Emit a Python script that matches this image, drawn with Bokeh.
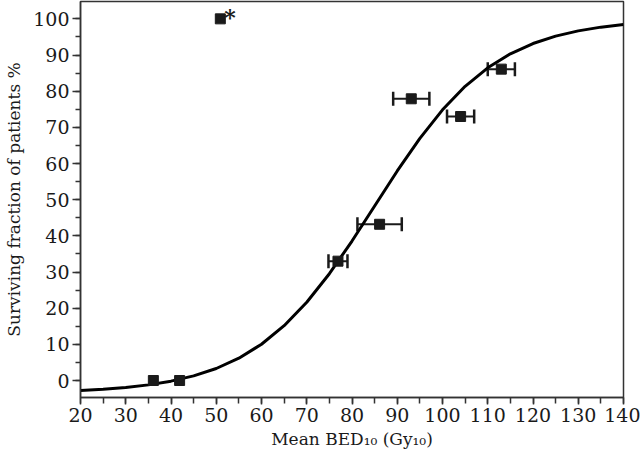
from bokeh.plotting import figure
from bokeh.models import Range1d, SingleIntervalTicker, ColumnDataSource, Whisker, TeeHead
from bokeh.core.properties import value
from bokeh.embed import file_html
from bokeh.resources import INLINE

# Data
pts_x = [36.1, 41.9, 50.9]
pts_y = [0.0, 0.0, 100.0]

err_x = [76.9, 86.1, 93.1, 104.0, 113.0]
err_y = [33.0, 43.2, 77.9, 73.0, 86.1]
err_dx = [2.1, 4.9, 4.0, 3.0, 3.0]

curve_x = [20, 25, 30, 35, 40, 45, 50, 55, 60, 65, 70, 75, 80, 85, 90, 95,
           100, 105, 110, 115, 120, 125, 130, 135, 140]
curve_y = [-2.75, -2.41, -1.92, -1.21, -0.18, 1.27, 3.32, 6.16, 10.03, 15.15,
           21.65, 29.53, 38.56, 48.25, 57.94, 66.97, 74.85, 81.35, 86.46, 90.33,
           93.18, 95.23, 96.68, 97.71, 98.42]

star_label = ["*"]

FONT = "DejaVu Serif"
INK = "#1a1a1a"
AX = "#333333"

p = figure(width=640, height=455, output_backend="svg", toolbar_location=None,
           x_range=Range1d(20, 140), y_range=Range1d(-4.7, 104.8),
           min_border_left=80, min_border_right=17, min_border_top=1, min_border_bottom=58)
p.grid.visible = False
p.outline_line_color = AX
p.outline_line_width = 1.5
p.background_fill_color = "white"
p.border_fill_color = "white"

p.xaxis.ticker = SingleIntervalTicker(interval=10, num_minor_ticks=2)
p.yaxis.ticker = SingleIntervalTicker(interval=10, num_minor_ticks=2)

for ax in (p.xaxis, p.yaxis):
    ax.axis_line_color = AX
    ax.axis_line_width = 1.5
    ax.major_tick_line_color = AX
    ax.minor_tick_line_color = AX
    ax.major_tick_line_width = 1.5
    ax.minor_tick_line_width = 1.5
    ax.major_tick_in = 0
    ax.minor_tick_in = 0
    ax.major_label_text_font = FONT
    ax.major_label_text_font_size = "19px"
    ax.major_label_text_color = INK
    ax.axis_label_text_font = FONT
    ax.axis_label_text_font_size = "17px"
    ax.axis_label_text_font_style = "normal"
    ax.axis_label_text_color = INK

p.xaxis.major_tick_out = 7
p.xaxis.minor_tick_out = 6
p.yaxis.major_tick_out = 8
p.yaxis.minor_tick_out = 5
p.xaxis.major_label_standoff = 3
p.yaxis.major_label_standoff = 3
p.xaxis.axis_label_standoff = 4
p.yaxis.axis_label_standoff = 6

p.xaxis.axis_label = "Mean BED\u2081\u2080 (Gy\u2081\u2080)"
p.yaxis.axis_label = "Surviving fraction of patients %"

# fitted curve
p.line(curve_x, curve_y, line_color="black", line_width=3)

# error bars
src = ColumnDataSource(dict(
    x=err_x, y=err_y,
    lo=[a - d for a, d in zip(err_x, err_dx)],
    hi=[a + d for a, d in zip(err_x, err_dx)],
))
w = Whisker(source=src, base="y", lower="lo", upper="hi", dimension="width",
            line_color=INK, line_width=2,
            upper_head=TeeHead(size=14, line_width=2.5, line_color=INK),
            lower_head=TeeHead(size=14, line_width=2.5, line_color=INK))
p.add_layout(w)

p.scatter(err_x, err_y, marker="square", size=10, fill_color=INK, line_color=INK)
p.scatter(pts_x, pts_y, marker="square", size=10, fill_color=INK, line_color=INK)

p.text(x=[pts_x[2]], y=[pts_y[2]], text=star_label, text_font=value(FONT),
       text_font_size="22px", text_font_style="bold", text_color=INK,
       text_align="left", text_baseline="alphabetic", x_offset=4, y_offset=-2)

open("out.html", "w").write(file_html(p, INLINE))
